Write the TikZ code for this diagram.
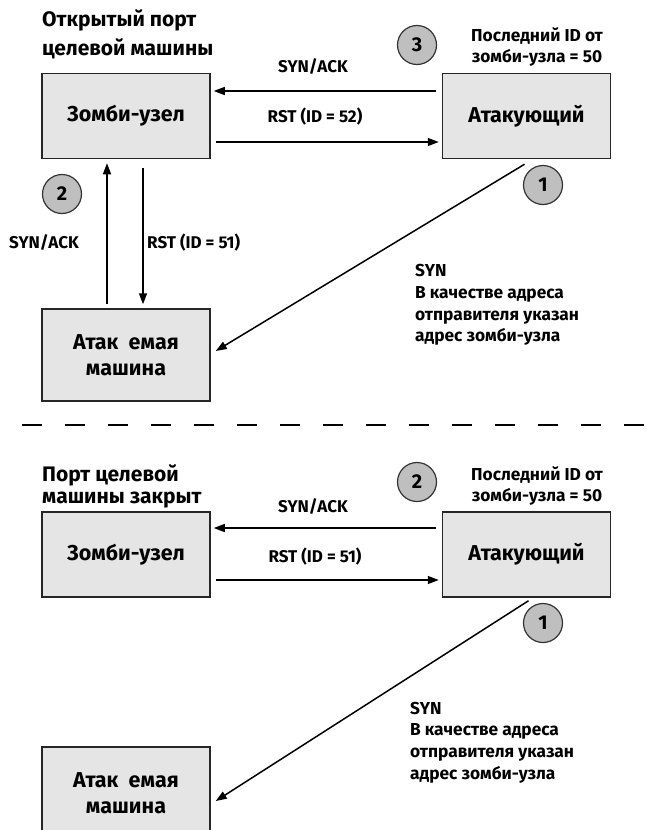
\documentclass[tikz,border=0pt]{standalone}
\usepackage{fontspec}
\setmainfont{Fira Sans}
\usetikzlibrary{arrows.meta}
\begin{document}
\begin{tikzpicture}[x=1pt,y=-1pt,
  box/.style={draw=black!85,fill=black!10,line width=1.5pt,minimum width=168pt,minimum height=85pt,inner sep=0pt,align=center,font=\bfseries\fontsize{21.5}{26}\selectfont},
  numc/.style={circle,draw=black!80,fill=black!25,line width=1.2pt,minimum size=39pt,inner sep=0pt,font=\bfseries\fontsize{20}{20}\selectfont},
  arr/.style={line width=1.5pt,-{Triangle[length=11pt,width=8pt]}},
  lbl/.style={inner sep=0pt,font=\bfseries\fontsize{17}{22}\selectfont},
  note/.style={inner sep=0pt,align=left,font=\bfseries\fontsize{17.3}{21.8}\selectfont},
  ttl/.style={inner sep=0pt,align=left,font=\bfseries\fontsize{21}{29}\selectfont}]
\useasboundingbox (0,0) rectangle (656,830);
\clip (0,0) rectangle (656,830);
\fill[white] (0,0) rectangle (656,830);

% ---------- top half ----------
\node[ttl,anchor=west] (title1) at (42,34) {Открытый порт\\целевой машины};
\node[box] (z1) at (126,116) {Зомби-узел};
\node[box] (a1) at (526.5,116) {Атакующий};
\node[box,minimum height=92pt] (t1) at (126,355) {Атак\ \ емая\\машина};

\node[numc] (c3) at (417,45) {3};
\node[numc] (c1) at (543,185) {1};
\node[numc] (c2) at (62,194) {2};

\node[note,align=center] (last1) at (537,47) {Последний ID от\\зомби-узла = 50};

\draw[arr] ([xshift=-6pt,yshift=25pt]a1.west) -- ([xshift=3pt,yshift=25pt]z1.east);
\draw[arr] ([xshift=5pt,yshift=-26pt]z1.east) -- ([xshift=-3pt,yshift=-26pt]a1.west);
\node[lbl] (sa1) at (313,67) {SYN/ACK};
\node[lbl] (rst52) at (315,117) {RST (ID = 52)};

\draw[arr] ([xshift=-19pt,yshift=4pt]t1.north) -- ([xshift=-19pt,yshift=-4pt]z1.south);
\draw[arr] ([xshift=17pt,yshift=-9pt]z1.south) -- ([xshift=17pt,yshift=4pt]t1.north);
\node[lbl] (sa2) at (44,243) {SYN/ACK};
\node[lbl,anchor=west] (rst51a) at (147,243) {RST (ID = 51)};

\draw[arr] ([xshift=-2pt,yshift=-5pt]a1.south) -- ([xshift=5pt,yshift=4pt]t1.east);
\node[note,anchor=west] (syn1) at (415,305) {SYN\\В качестве адреса\\отправителя указан\\адрес зомби-узла};

% ---------- separator ----------
\coordinate (dl) at (22,425);
\coordinate (dr) at (656,425);
\draw[line width=2.5pt,dash pattern=on 20pt off 23pt] (dl) -- (dr);

% ---------- bottom half ----------
\node[note,font=\bfseries\fontsize{21}{22}\selectfont,anchor=west] (title2) at (42,486) {Порт целевой\\машины закрыт};
\node[box] (z2) at (126,554.5) {Зомби-узел};
\node[box] (a2) at (526.5,554.5) {Атакующий};
\node[box,minimum height=92pt] (t2) at (126,793) {Атак\ \ емая\\машина};

\node[numc] (d2) at (417,482) {2};
\node[numc] (d1) at (543,623) {1};

\node[note,align=center] (last2) at (537,486) {Последний ID от\\зомби-узла = 50};

\draw[arr] ([xshift=-6pt,yshift=26.5pt]a2.west) -- ([xshift=3pt,yshift=26.5pt]z2.east);
\draw[arr] ([xshift=5pt,yshift=-25.5pt]z2.east) -- ([xshift=-3pt,yshift=-25.5pt]a2.west);
\node[lbl] (sa3) at (313,507) {SYN/ACK};
\node[lbl] (rst51b) at (315,557) {RST (ID = 51)};

\draw[arr] ([xshift=2pt,yshift=-3pt]a2.south) -- ([xshift=5pt,yshift=-8pt]t2.east);
\node[note,anchor=west] (syn2) at (410,742.5) {SYN\\В качестве адреса\\отправителя указан\\адрес зомби-узла};
\end{tikzpicture}
\end{document}
